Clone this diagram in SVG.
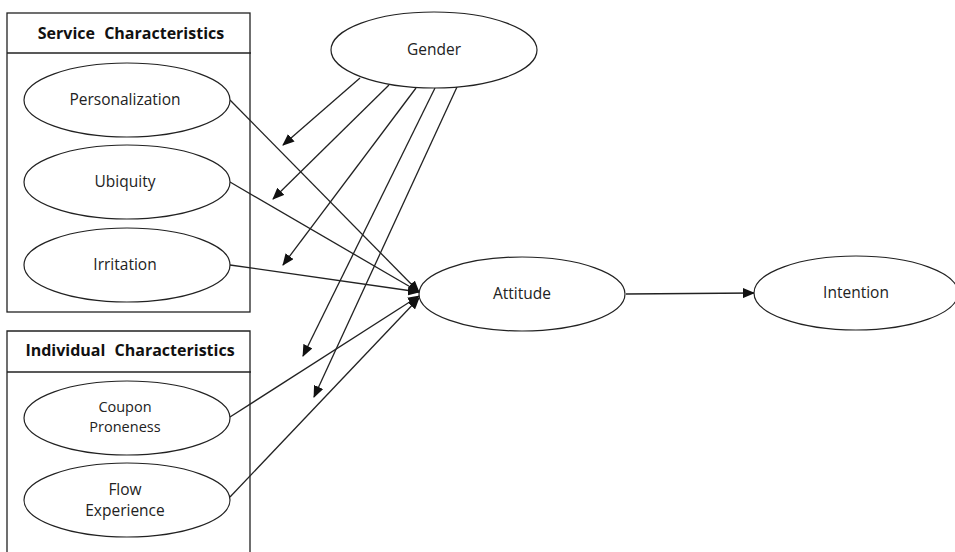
<svg xmlns="http://www.w3.org/2000/svg" width="955" height="552" viewBox="0 0 955 552">
<style>
.box{fill:none;stroke:#222;stroke-width:1.3}
.el{fill:#fff;stroke:#222;stroke-width:1.2}
.t{font-family:"Open Sans","Noto Sans","DejaVu Sans",sans-serif;font-size:15.5px;fill:#222;text-anchor:middle}
.t2{font-size:14.5px}
.h{font-family:"Open Sans","Noto Sans","DejaVu Sans",sans-serif;font-size:16px;font-weight:bold;fill:#111;text-anchor:middle;word-spacing:5px}
.c{fill:none;stroke:#222;stroke-width:1.3}
</style>
<defs>
<marker id="ah" markerUnits="userSpaceOnUse" markerWidth="12" markerHeight="10" refX="11" refY="5" orient="auto">
<path d="M0,0 L12,5 L0,10 Z" fill="#111"/>
</marker>
</defs>
<rect width="955" height="552" fill="#fff"/>
<g id="service-group">
<rect class="box" x="7" y="13" width="243" height="299"/>
<line class="box" x1="7" y1="53" x2="251" y2="53"/>
<text class="h" x="131" y="39">Service Characteristics</text>
</g>
<g id="individual-group">
<path class="box" d="M7,553 V331 H250 V553"/>
<line class="box" x1="7" y1="372" x2="251" y2="372"/>
<text class="h" x="130" y="356">Individual Characteristics</text>
</g>
<g id="connectors">
<line class="c" x1="230" y1="100" x2="419" y2="292" marker-end="url(#ah)"/>
<line class="c" x1="230" y1="182" x2="419" y2="292" marker-end="url(#ah)"/>
<line class="c" x1="230" y1="265" x2="419" y2="292" marker-end="url(#ah)"/>
<line class="c" x1="230" y1="417" x2="419" y2="296" marker-end="url(#ah)"/>
<line class="c" x1="230" y1="497" x2="419" y2="298" marker-end="url(#ah)"/>
<line class="c" x1="360" y1="78" x2="283" y2="145" marker-end="url(#ah)"/>
<line class="c" x1="389" y1="85" x2="273" y2="199" marker-end="url(#ah)"/>
<line class="c" x1="416" y1="88" x2="283" y2="265" marker-end="url(#ah)"/>
<line class="c" x1="435" y1="88" x2="303" y2="356" marker-end="url(#ah)"/>
<line class="c" x1="457" y1="87" x2="314" y2="397" marker-end="url(#ah)"/>
<line class="c" x1="626" y1="294" x2="754" y2="293" marker-end="url(#ah)"/>
</g>
<g id="personalization">
<ellipse class="el" cx="127" cy="100" rx="103" ry="37"/>
<text class="t" x="125" y="105">Personalization</text>
</g>
<g id="ubiquity">
<ellipse class="el" cx="127" cy="182" rx="103" ry="37"/>
<text class="t" x="125" y="187">Ubiquity</text>
</g>
<g id="irritation">
<ellipse class="el" cx="127" cy="265" rx="103" ry="37"/>
<text class="t" x="125" y="270">Irritation</text>
</g>
<g id="coupon">
<ellipse class="el" cx="127" cy="418" rx="103" ry="37"/>
<text class="t t2" x="125" y="412">Coupon</text>
<text class="t t2" x="125" y="432">Proneness</text>
</g>
<g id="flow">
<ellipse class="el" cx="127" cy="500" rx="103" ry="37"/>
<text class="t" x="125" y="495">Flow</text>
<text class="t" x="125" y="516">Experience</text>
</g>
<g id="gender">
<ellipse class="el" cx="434" cy="50" rx="103" ry="38"/>
<text class="t" x="434" y="55">Gender</text>
</g>
<g id="attitude">
<ellipse class="el" cx="522" cy="294" rx="103" ry="37"/>
<text class="t" x="522" y="299">Attitude</text>
</g>
<g id="intention">
<ellipse class="el" cx="856" cy="293" rx="102" ry="37"/>
<text class="t" x="856" y="298">Intention</text>
</g>
</svg>
